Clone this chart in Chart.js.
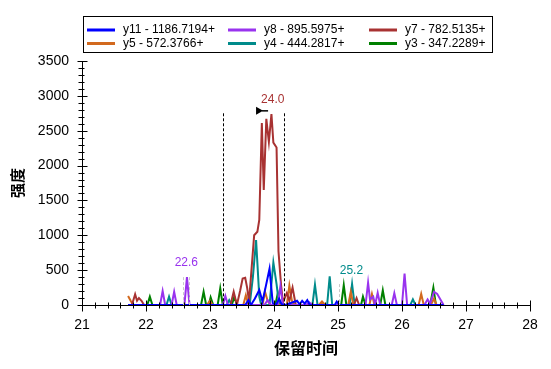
<!DOCTYPE html>
<html>
<head>
<meta charset="utf-8">
<script src="https://cdn.jsdelivr.net/npm/chart.js@4"></script>
<style>
  html, body { margin: 0; padding: 0; background: #fff; }
  #wrap { width: 551px; height: 369px; position: relative; }
</style>
</head>
<body>
<div id="wrap"><canvas id="chart" width="551" height="369"></canvas></div>
<script>
// axis ticks
const xTicks = [21, 22, 23, 24, 25, 26, 27, 28];
const yTicks = [0, 500, 1000, 1500, 2000, 2500, 3000, 3500];

const seriesLabels = ['y11 - 1186.7194+', 'y8 - 895.5975+', 'y7 - 782.5135+',
                      'y5 - 572.3766+', 'y4 - 444.2817+', 'y3 - 347.2289+'];
const seriesColors = ['#0000ff', '#9933ee', '#a83232', '#d2691e', '#008b8b', '#008000'];

// y11
const y11Times  = [21.72, 23.55, 23.6, 23.64, 23.7, 23.77, 23.82, 23.87, 23.93, 23.98, 24.03, 24.08, 24.12, 24.18, 24.36, 24.4, 24.44, 24.48, 24.52, 24.56, 24.6, 24.95, 24.98, 25.02, 26.65];
const y11Values = [0, 0, 70, 0, 90, 215, 50, 260, 520, 30, 0, 90, 10, 0, 60, 10, 60, 20, 70, 0, 0, 0, 50, 0, 0];
// y8
const y8Times  = [21.72, 22.22, 22.26, 22.3, 22.4, 22.44, 22.48, 22.6, 22.64, 22.68, 23.2, 23.24, 23.28, 23.85, 23.9, 23.95, 24.06, 24.1, 24.14, 24.5, 24.55, 24.6, 25.43, 25.47, 25.5, 25.55, 25.58, 25.62, 25.66, 25.84, 25.88, 25.92, 26.0, 26.04, 26.08, 26.35, 26.4, 26.44, 26.5, 26.55, 26.6, 26.65];
const y8Values = [0, 0, 200, 0, 0, 190, 0, 0, 400, 0, 0, 130, 0, 0, 70, 0, 0, 270, 0, 0, 40, 0, 0, 320, 80, 120, 0, 175, 0, 0, 170, 0, 0, 450, 0, 0, 80, 20, 190, 160, 80, 0];
// y7
const y7Times  = [21.72, 21.78, 21.83, 21.86, 21.89, 21.93, 21.97, 23.32, 23.37, 23.42, 23.47, 23.51, 23.55, 23.58, 23.61, 23.69, 23.74, 23.77, 23.81, 23.84, 23.88, 23.92, 23.96, 23.99, 24.04, 24.07, 24.11, 24.14, 24.2, 24.24, 24.29, 24.34, 25.25, 25.29, 25.33, 26.65];
const y7Values = [0, 0, 155, 60, 100, 60, 0, 0, 190, 0, 200, 380, 390, 250, 50, 1000, 1050, 1220, 2610, 1650, 2670, 2340, 2740, 2330, 2260, 770, 290, 40, 170, 60, 250, 0, 0, 100, 0, 0];
// y5
const y5Times  = [21.72, 21.76, 21.8, 22.95, 23.0, 23.04, 23.52, 23.56, 23.6, 23.82, 23.86, 23.9, 23.95, 24.2, 24.24, 24.28, 24.32, 24.7, 24.75, 24.8, 25.16, 25.2, 25.24, 25.49, 25.53, 25.57, 26.26, 26.3, 26.34, 26.45, 26.5, 26.54, 26.65];
const y5Values = [130, 60, 0, 0, 60, 0, 0, 140, 0, 0, 190, 60, 0, 0, 280, 60, 0, 0, 50, 0, 0, 190, 0, 0, 160, 0, 0, 160, 0, 0, 90, 0, 0];
// y4
const y4Times  = [21.72, 22.32, 22.36, 22.4, 23.26, 23.3, 23.34, 23.62, 23.67, 23.72, 23.77, 23.8, 23.93, 23.99, 24.04, 24.08, 24.6, 24.64, 24.68, 24.83, 24.87, 24.91, 25.18, 25.22, 25.26, 26.13, 26.17, 26.21, 26.65];
const y4Values = [0, 0, 120, 0, 0, 70, 0, 0, 400, 930, 120, 0, 0, 610, 300, 0, 0, 290, 0, 0, 410, 0, 0, 300, 0, 0, 80, 0, 0];
// y3
const y3Times  = [21.72, 22.02, 22.06, 22.1, 22.86, 22.9, 22.94, 22.98, 23.01, 23.05, 23.12, 23.16, 23.2, 23.34, 23.38, 23.42, 24.02, 24.06, 24.1, 25.05, 25.09, 25.13, 25.36, 25.39, 25.43, 25.66, 25.7, 25.74, 26.44, 26.49, 26.53, 26.65];
const y3Values = [0, 0, 120, 0, 0, 190, 0, 0, 110, 0, 0, 240, 0, 0, 120, 0, 0, 170, 0, 0, 285, 0, 0, 120, 0, 0, 210, 0, 0, 250, 0, 0];

// integration window and peak labels
const windowTimes = [23.21, 24.15];
const windowTop = 2750;
const peakLabels = [
  { text: '24.0', t: 23.98, v: 2940, color: '#a83232' },
  { text: '22.6', t: 22.63, v: 600, color: '#9933ee' },
  { text: '25.2', t: 25.21, v: 495, color: '#008b8b' }
];
const grayMarks = [[22.58, 400], [22.67, 400], [25.02, 300]];

const allTimes = [y11Times, y8Times, y7Times, y5Times, y4Times, y3Times];
const allValues = [y11Values, y8Values, y7Values, y5Values, y4Values, y3Values];

const datasets = seriesLabels.map((label, i) => ({
  label,
  data: allTimes[i].map((t, j) => ({ x: t, y: allValues[i][j] })),
  borderColor: seriesColors[i],
  borderWidth: 2,
  pointRadius: 0,
  tension: 0,
  fill: false
}));

const FONT = '"Liberation Sans", Arial, sans-serif';

// tick marks, annotations and the boxed legend
const extras = {
  id: 'extras',
  afterDatasetsDraw(chart) {
    const ctx = chart.ctx;
    const xs = chart.scales.x, ys = chart.scales.y;
    ctx.save();

    // gray dashed marks
    ctx.strokeStyle = '#c8c8c8';
    ctx.lineWidth = 1;
    ctx.setLineDash([3, 2]);
    grayMarks.forEach(([t, v]) => {
      const px = Math.round(xs.getPixelForValue(t)) + 0.5;
      ctx.beginPath();
      ctx.moveTo(px, ys.getPixelForValue(v));
      ctx.lineTo(px, ys.getPixelForValue(0));
      ctx.stroke();
    });

    // black dashed window
    ctx.strokeStyle = '#000';
    ctx.setLineDash([3, 2]);
    windowTimes.forEach(t => {
      const px = Math.round(xs.getPixelForValue(t)) + 0.5;
      ctx.beginPath();
      ctx.moveTo(px, ys.getPixelForValue(windowTop));
      ctx.lineTo(px, ys.getPixelForValue(0));
      ctx.stroke();
    });
    ctx.setLineDash([]);

    // apex marker
    const ax = xs.getPixelForValue(23.72), ay = ys.getPixelForValue(2785);
    ctx.fillStyle = '#000';
    ctx.beginPath();
    ctx.moveTo(ax, ay - 4);
    ctx.lineTo(ax, ay + 4);
    ctx.lineTo(ax + 7, ay);
    ctx.closePath();
    ctx.fill();
    ctx.lineWidth = 1.5;
    ctx.beginPath();
    ctx.moveTo(ax + 6, ay);
    ctx.lineTo(ax + 12, ay);
    ctx.stroke();

    // peak labels
    ctx.font = '12px ' + FONT;
    ctx.textAlign = 'center';
    ctx.textBaseline = 'middle';
    peakLabels.forEach(p => {
      ctx.fillStyle = p.color;
      ctx.fillText(p.text, xs.getPixelForValue(p.t), ys.getPixelForValue(p.v));
    });

    // axis tick marks
    ctx.strokeStyle = '#000';
    ctx.lineWidth = 1;
    const yAxis = ys.getPixelForValue(0) + 0.5;
    for (let k = 0; k <= 35; k++) {
      const t = 21 + k * 0.2;
      const px = Math.round(xs.getPixelForValue(t)) + 0.5;
      const major = k % 5 === 0;
      ctx.beginPath();
      ctx.moveTo(px, yAxis - (major ? 5 : 3));
      ctx.lineTo(px, yAxis + (major ? 6 : 3));
      ctx.stroke();
    }
    const xAxis = chart.chartArea.left - 0.5;
    for (let k = 0; k <= 35; k++) {
      const v = k * 100;
      const py = Math.round(ys.getPixelForValue(v)) + 0.5;
      const major = k % 5 === 0;
      ctx.beginPath();
      ctx.moveTo(xAxis - (major ? 4 : 3), py);
      ctx.lineTo(xAxis + (major ? 6 : 3), py);
      ctx.stroke();
    }

    // legend box
    ctx.fillStyle = '#fff';
    ctx.fillRect(83.5, 16.5, 409, 36);
    ctx.strokeStyle = '#000';
    ctx.strokeRect(83.5, 16.5, 409, 36);
    const colX = [87, 228, 369];
    const rowY = [30, 43.5];
    ctx.font = '12px ' + FONT;
    ctx.textAlign = 'left';
    ctx.textBaseline = 'middle';
    seriesLabels.forEach((label, i) => {
      const cx = colX[i % 3], cy = rowY[Math.floor(i / 3)];
      ctx.strokeStyle = seriesColors[i];
      ctx.lineWidth = 3;
      ctx.beginPath();
      ctx.moveTo(cx, cy);
      ctx.lineTo(cx + 28, cy);
      ctx.stroke();
      ctx.fillStyle = '#000';
      ctx.fillText(label, cx + 36, cy);
    });
    ctx.restore();
  }
};

new Chart(document.getElementById('chart'), {
  type: 'line',
  data: { datasets },
  options: {
    responsive: false,
    animation: false,
    events: [],
    layout: { padding: { top: 61, right: 21, left: 0, bottom: 0 } },
    plugins: { legend: { display: false }, tooltip: { enabled: false } },
    scales: {
      x: {
        type: 'linear',
        min: xTicks[0],
        max: xTicks[xTicks.length - 1],
        afterFit: s => { s.height = 64; },
        afterBuildTicks: s => { s.ticks = xTicks.map(v => ({ value: v })); },
        grid: { display: false },
        border: { display: true, color: '#000', width: 1 },
        ticks: { color: '#000', padding: 4, font: { family: FONT, size: 14 }, maxRotation: 0,
                 callback: v => String(v) },
        title: {
          display: true, text: '保留时间', color: '#000',
          font: { family: '"Noto Sans CJK SC"', size: 16, weight: 'bold' },
          padding: { top: 0, bottom: 11 }
        }
      },
      y: {
        min: yTicks[0],
        max: yTicks[yTicks.length - 1],
        afterFit: s => { s.width = 82; },
        afterBuildTicks: s => { s.ticks = yTicks.map(v => ({ value: v })); },
        grid: { display: false },
        border: { display: true, color: '#000', width: 1 },
        ticks: { color: '#000', padding: 5, font: { family: FONT, size: 14 },
                 callback: v => String(v) },
        title: {
          display: true, text: '强度', color: '#000',
          font: { family: '"Noto Sans CJK SC"', size: 15, weight: 'bold' },
          padding: { top: 8, bottom: 0 }
        }
      }
    }
  },
  plugins: [extras]
});
</script>
</body>
</html>
